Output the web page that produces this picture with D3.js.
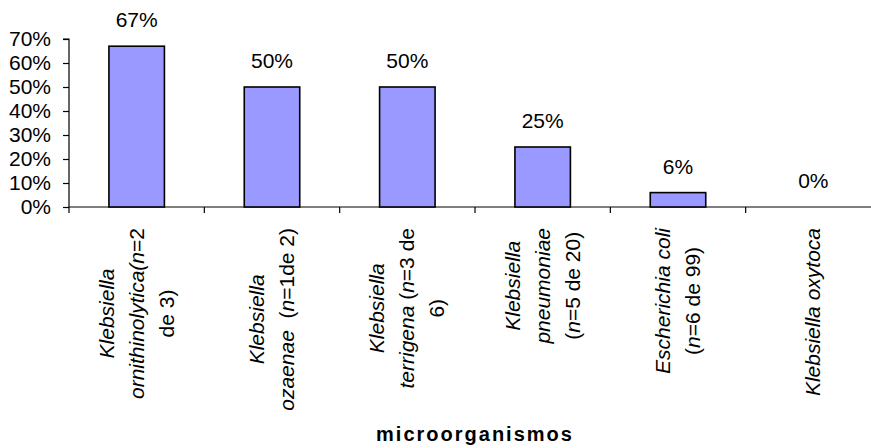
<!DOCTYPE html>
<html>
<head>
<meta charset="utf-8">
<script src="https://cdn.jsdelivr.net/npm/d3@7/dist/d3.min.js"></script>
<style>
  html, body { margin: 0; padding: 0; background: #fff; }
  svg { display: block; font-family: "Liberation Sans", Arial, sans-serif; }
</style>
</head>
<body>
<svg id="chart" width="871" height="448"></svg>
<script>
// Percentage of positive isolates per microorganism
const categories = [
  "Klebsiella ornithinolytica",
  "Klebsiella ozaenae",
  "Klebsiella terrigena",
  "Klebsiella pneumoniae",
  "Escherichia coli",
  "Klebsiella oxytoca"
];
const values = [67, 50, 50, 25, 6, 0];

// Category label lines; text between asterisks is set in italics
const categoryLines = [
  ["*Klebsiella*", "*ornithinolytica(n*=2", "de 3)"],
  ["*Klebsiella*", "*ozaenae*  (*n*=1de 2)"],
  ["*Klebsiella*", "*terrigena* (*n*=3 de", "6)"],
  ["*Klebsiella*", "*pneumoniae*", "(*n*=5 de 20)"],
  ["*Escherichia coli*", "(*n*=6 de 99)"],
  ["*Klebsiella oxytoca*"]
];
const yTicks = [0, 10, 20, 30, 40, 50, 60, 70];
const xTitle = "microorganismos";

const svg = d3.select("#chart");
const plotLeft = 69, plotRight = 881, plotTop = 39, plotBottom = 207;

const x = d3.scaleBand().domain(categories).range([plotLeft, plotRight]).paddingInner(0.59).paddingOuter(0.295);
const y = d3.scaleLinear().domain([0, 70]).range([plotBottom, plotTop]);
const step = x.step();
const bandStart = d => plotLeft + categories.indexOf(d) * step;

// Y axis
const yAxis = d3.axisLeft(y)
  .tickValues(yTicks)
  .tickSize(6)
  .tickPadding(12)
  .tickFormat(d => d + "%");
const gy = svg.append("g").attr("transform", `translate(${plotLeft},0)`).call(yAxis);
gy.select(".domain").attr("stroke", "#000").attr("stroke-width", 1.2).attr("d", `M-6,${plotTop}H0V${plotBottom + 6}`);
gy.selectAll(".tick line").attr("stroke", "#000").attr("stroke-width", 1.2);
gy.selectAll(".tick text")
  .attr("fill", "#000")
  .style("font-size", "21px")
  .style("font-family", "'Liberation Sans', Arial, sans-serif");

// X axis baseline and category boundary ticks
svg.append("line")
  .attr("x1", plotLeft).attr("x2", plotRight)
  .attr("y1", y(0)).attr("y2", y(0))
  .attr("stroke", "#000").attr("stroke-width", 1.2);
svg.append("g").selectAll("line")
  .data(categories.slice(1).concat([null]))
  .join("line")
  .attr("x1", d => d === null ? plotRight : bandStart(d))
  .attr("x2", d => d === null ? plotRight : bandStart(d))
  .attr("y1", y(0)).attr("y2", y(0) + 6)
  .attr("stroke", "#000").attr("stroke-width", 1.2);

// Bars
svg.append("g").selectAll("rect")
  .data(categories)
  .join("rect")
  .attr("x", d => x(d))
  .attr("width", x.bandwidth())
  .attr("y", (d, i) => y(values[i]))
  .attr("height", (d, i) => y(0) - y(values[i]))
  .attr("fill", "#9999ff")
  .attr("stroke", "#000")
  .attr("stroke-width", 1.6);

// Value labels
svg.append("g").selectAll("text")
  .data(categories)
  .join("text")
  .attr("x", d => x(d) + x.bandwidth() / 2)
  .attr("y", (d, i) => y(values[i]) - 19)
  .attr("text-anchor", "middle")
  .style("font-size", "21px")
  .text((d, i) => values[i] + "%");

// Rotated category labels
const lineGap = 30, labelTop = 228;
categories.forEach((cat, i) => {
  const lines = categoryLines[i];
  const cx = x(cat) + x.bandwidth() / 2;
  const g = svg.append("g");
  const texts = lines.map((ln, j) => {
    const t = g.append("text")
      .attr("text-anchor", "middle")
      .attr("xml:space", "preserve")
      .style("font-size", "21px");
    ln.split("*").forEach((seg, k) => {
      if (seg.length) t.append("tspan").style("font-style", k % 2 ? "italic" : "normal").text(seg);
    });
    t.attr("y", (j - (lines.length - 1) / 2) * lineGap + 7);
    return t;
  });
  const maxLen = d3.max(texts, t => t.node().getComputedTextLength());
  g.attr("transform", `translate(${cx},${labelTop + maxLen / 2}) rotate(-90)`);
});

// Axis title
svg.append("text")
  .attr("x", (plotLeft + plotRight) / 2)
  .attr("y", 441)
  .attr("text-anchor", "middle")
  .style("font-size", "20px")
  .style("font-weight", "bold")
  .style("letter-spacing", "2px")
  .text(xTitle);
</script>
</body>
</html>
